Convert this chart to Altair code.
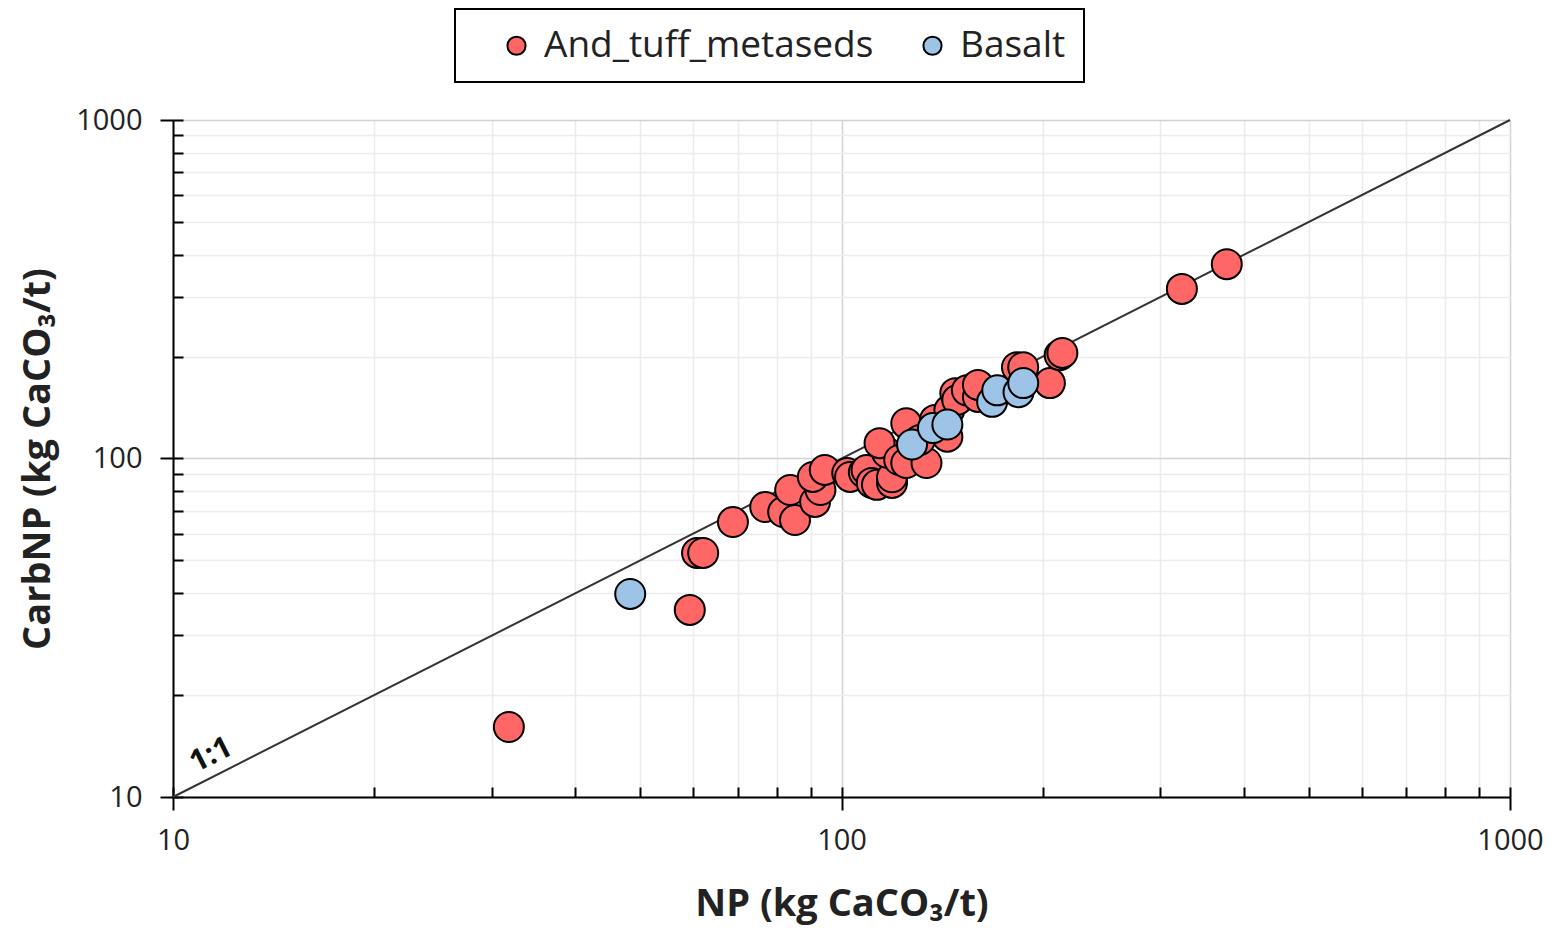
import altair as alt
import pandas as pd

# ---- data ----
red_np = [31.8, 59.3, 60.8, 62.1, 68.8, 76.9, 81.8, 85.2, 83.8, 91.3, 93.0, 90.6, 94.4,
          102, 103, 108, 109, 111, 113, 119, 119, 117, 114, 122, 125, 134, 125, 131, 138,
          144, 145, 148, 149, 154, 160, 160, 183, 187, 205, 212, 214, 323, 377]
red_carb = [16.1, 35.7, 52.6, 52.6, 64.9, 71.9, 69.5, 65.8, 80.7, 74.4, 80.7, 88.2, 92.5,
            90.6, 88.2, 91.0, 92.5, 84.7, 83.6, 84.7, 88.0, 104, 111, 99, 97, 97, 127, 113.5, 130,
            116, 139, 156, 149, 159, 152, 165, 186, 186, 167, 202, 205, 317, 375]
blue_np = [48.3, 127.5, 137, 144, 168, 171, 184, 187]
blue_carb = [39.8, 110, 123, 126, 147, 159, 157, 167]

groups = ["And_tuff_metaseds", "Basalt"]
colors = ["#FF6666", "#9DC3E6"]

one_to_one = [10, 1000]
label_pos = [11.4, 13.3]
label_text = ["1:1"]

tick_values = [10, 20, 30, 40, 50, 60, 70, 80, 90,
               100, 200, 300, 400, 500, 600, 700, 800, 900, 1000]
major_values = [10, 100, 1000]

pts = pd.DataFrame({
    "NP": red_np + blue_np,
    "CarbNP": red_carb + blue_carb,
    "Group": [groups[0]] * len(red_np) + [groups[1]] * len(blue_np),
})
line_df = pd.DataFrame({"NP": one_to_one, "CarbNP": one_to_one})
lab_df = pd.DataFrame({"NP": [label_pos[0]], "CarbNP": [label_pos[1]], "t": label_text})

FONT = "Open Sans"
major_test = " || ".join(f"datum.value == {v}" for v in major_values)
label_expr = f"({major_test}) ? '' + datum.value : ''"

xscale = alt.Scale(type="log", domain=[10, 1000], nice=False)
yscale = alt.Scale(type="log", domain=[10, 1000], nice=False)


def main_axis(title, orient):
    return alt.Axis(
        title=title, orient=orient, values=tick_values, labelExpr=label_expr,
        grid=True,
        gridColor={"condition": {"test": major_test, "value": "#d2d2d2"}, "value": "#ececec"},
        gridWidth=1.5,
        tickSize=13, tickWidth=2, tickColor="black",
        tickOpacity={"condition": {"test": major_test, "value": 1}, "value": 0},
        domainColor="black", domainWidth=2,
        labelFont=FONT, labelFontSize=29, labelColor="#222", labelFlush=False,
        labelPadding=16 if orient == "bottom" else 18,
        titleFont=FONT, titleFontSize=38, titleFontWeight="bold", titleColor="#222",
        titlePadding=30 if orient == "bottom" else 18,
    )


def minor_axis(orient):
    return alt.Axis(
        title=None, orient=orient, values=tick_values, labels=False, domain=False,
        grid=False, offset=-10, tickSize=10, tickWidth=2, tickColor="black",
    )


line = alt.Chart(line_df).mark_line(color="#333333", strokeWidth=2).encode(
    x=alt.X("NP:Q", scale=xscale, axis=main_axis("NP (kg CaCO₃/t)", "bottom")),
    y=alt.Y("CarbNP:Q", scale=yscale, axis=main_axis("CarbNP (kg CaCO₃/t)", "left")),
)

points = alt.Chart(pts).mark_point(
    shape="circle", filled=True, size=900, stroke="black", strokeWidth=2, opacity=1
).encode(
    x=alt.X("NP:Q", scale=xscale, axis=minor_axis("bottom")),
    y=alt.Y("CarbNP:Q", scale=yscale, axis=minor_axis("left")),
    fill=alt.Fill(
        "Group:N",
        scale=alt.Scale(domain=groups, range=colors),
        legend=alt.Legend(
            title=None, orient="none", legendX=282, legendY=-111, direction="horizontal",
            strokeColor="black", padding=18, symbolType="circle", symbolSize=330,
            symbolStrokeColor="black", symbolStrokeWidth=2, symbolOffset=25,
            labelFont=FONT, labelFontSize=37, labelColor="#222", labelOffset=9,
            columnPadding=15, labelLimit=600,
        ),
    ),
)

label = alt.Chart(lab_df).mark_text(
    font=FONT, fontSize=30, fontWeight="bold", angle=333, color="#111",
    align="center", baseline="middle",
).encode(
    x=alt.X("NP:Q", scale=xscale, axis=None),
    y=alt.Y("CarbNP:Q", scale=yscale, axis=None),
    text="t:N",
)

chart = alt.layer(line, points, label).resolve_axis(
    x="independent", y="independent"
).properties(
    width=1337, height=677,
    padding={"left": 165, "top": 112, "right": 36, "bottom": 128},
    autosize=alt.AutoSizeParams(type="none"),
    background="white",
).configure_view(stroke=None).configure_legend(strokeWidth=2)

chart.save("out.html", embed_options={"renderer": "svg", "actions": False})
